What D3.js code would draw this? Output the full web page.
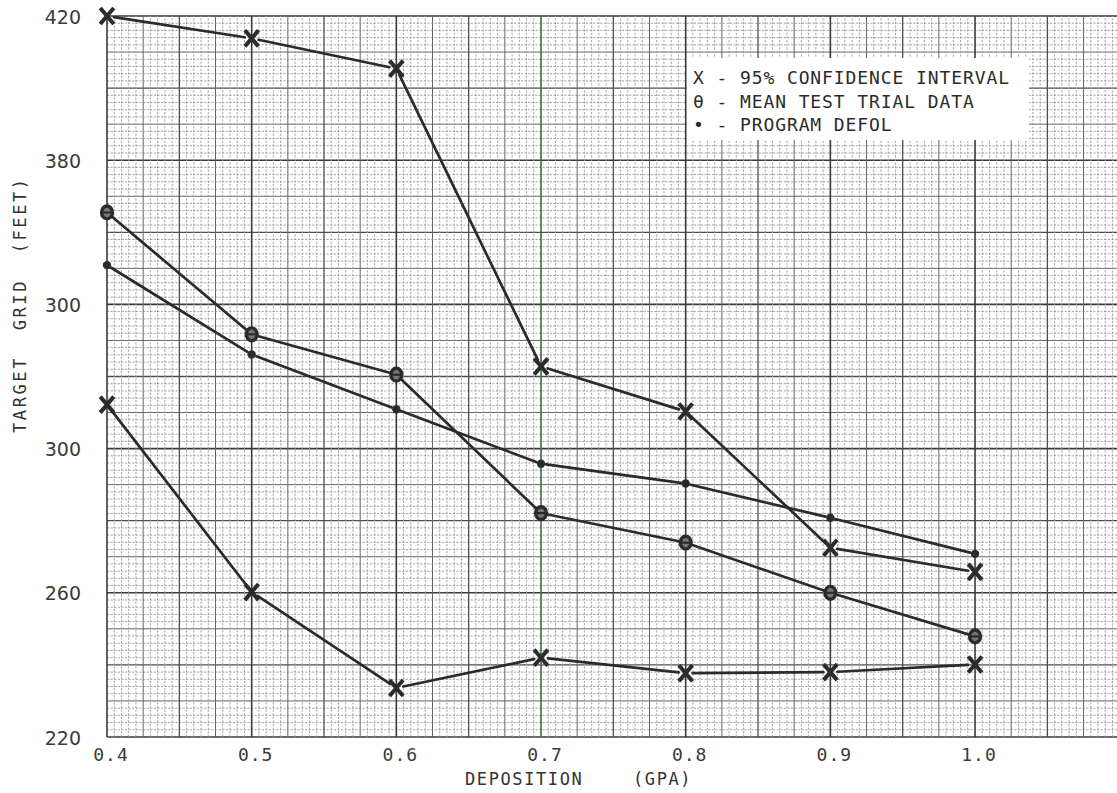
<!DOCTYPE html>
<html>
<head>
<meta charset="utf-8">
<script src="https://cdn.jsdelivr.net/npm/d3@7"></script>
<style>
  html, body { margin: 0; padding: 0; background: #fff; }
  svg { display: block; }
</style>
</head>
<body>
<script>
// Deposition (GPA) against target grid distance (feet)
const deposition   = [0.4, 0.5, 0.6, 0.7, 0.8, 0.9, 1.0];
const upperCI      = [420, 413.8, 405.4, 322.8, 310.3, 272.5, 265.8];
const lowerCI      = [312.2, 260.2, 233.6, 242.0, 237.7, 238.0, 240.1];
const meanTrial    = [365.5, 331.7, 320.5, 282.1, 273.9, 260.0, 247.9];
const programDefol = [350.9, 326.1, 310.9, 295.8, 290.3, 280.8, 270.8];

const xTickValues = [0.4, 0.5, 0.6, 0.7, 0.8, 0.9, 1.0];
const xTickLabels = ["0.4", "0.5", "0.6", "0.7", "0.8", "0.9", "1.0"];
const yTickValues = [420, 380, 340, 300, 260, 220];
const yTickLabels = ["420", "380", "300", "300", "260", "220"];

const legendItems = [
  { key: "ci",   text: "X - 95% CONFIDENCE INTERVAL" },
  { key: "mean", text: "\u03B8 - MEAN TEST TRIAL DATA" },
  { key: "prog", text: "\u2022 - PROGRAM DEFOL" }
];

const W = 1117, H = 793;
const ink = "#2b2b2b";

const svg = d3.select("body").append("svg")
  .attr("width", W).attr("height", H);

const x = d3.scaleLinear().domain([0.4, 1.1]).range([107, 1119.7]);
const y = d3.scaleLinear().domain([220, 420]).range([737, 16]);

// ---- graph paper ----
const grid = svg.append("g");
const nx = 140; // 0.005 steps
const ny = 100; // 2-unit steps
function lineStyle(i, big, mid, small) {
  if (i % big === 0) return { c: "#3a3a3a", w: 1.6 };
  if (i % mid === 0) return { c: "#4e4e4e", w: 1.3 };
  if (i % small === 0) return { c: "#666", w: 1.0 };
  return { c: "#9a9a9a", w: 0.9 };
}
const vLines = d3.range(nx + 1).map(i => ({ v: 0.4 + i * 0.005, s: lineStyle(i, 20, 10, 5) }));
const hLines = d3.range(ny + 1).map(j => ({ v: 220 + j * 2, s: lineStyle(j, 20, 10, 5) }));

// fine lines first, heavier lines on top
const order = a => a.slice().sort((p, q) => p.s.w - q.s.w);
grid.selectAll(".gh").data(order(hLines)).join("line")
  .attr("x1", x(0.4)).attr("x2", x(1.1))
  .attr("y1", d => y(d.v)).attr("y2", d => y(d.v))
  .attr("stroke", d => d.s.c).attr("stroke-width", d => d.s.w)
  .attr("stroke-dasharray", d => d.s.w < 1 ? "2.2,1.4" : null);
grid.selectAll(".gv").data(order(vLines)).join("line")
  .attr("x1", d => x(d.v)).attr("x2", d => x(d.v))
  .attr("y1", y(220)).attr("y2", y(420))
  .attr("stroke", d => Math.abs(d.v - 0.7) < 1e-9 ? "#3d6b45" : d.s.c)
  .attr("stroke-width", d => d.s.w)
  .attr("stroke-dasharray", d => d.s.w < 1 ? "2.2,1.4" : null);

// ---- legend panel (white patch over the paper) ----
const lg = svg.append("g");
lg.append("rect").attr("x", 687).attr("y", 58).attr("width", 342).attr("height", 82)
  .attr("fill", "#fff");
lg.selectAll("text").data(legendItems).join("text")
  .attr("x", 693).attr("y", (d, i) => 84 + i * 23.5)
  .attr("font-family", "DejaVu Sans Mono, monospace")
  .attr("font-size", 18).attr("letter-spacing", 0.9)
  .attr("fill", ink)
  .text(d => d.text);

// ---- axes text ----
const tf = "DejaVu Sans Mono, monospace";
svg.append("g").selectAll("text").data(yTickValues).join("text")
  .attr("x", 81).attr("y", d => y(d) + 2)
  .attr("text-anchor", "end").attr("dominant-baseline", "middle")
  .attr("font-family", "DejaVu Sans, sans-serif").attr("font-size", 19)
  .attr("fill", "#3a3a3a")
  .text((d, i) => yTickLabels[i]);

svg.append("g").selectAll("text").data(xTickValues).join("text")
  .attr("x", d => x(d) + 4).attr("y", 761)
  .attr("text-anchor", "middle")
  .attr("font-family", tf).attr("font-size", 18).attr("letter-spacing", 1)
  .attr("fill", "#3a3a3a")
  .text((d, i) => xTickLabels[i]);

svg.append("text").attr("x", 465).attr("y", 785)
  .attr("font-family", tf).attr("font-size", 17).attr("letter-spacing", 1.6)
  .attr("fill", "#333").text("DEPOSITION");
svg.append("text").attr("x", 633).attr("y", 785)
  .attr("font-family", tf).attr("font-size", 17).attr("letter-spacing", 1.6)
  .attr("fill", "#333").text("(GPA)");

svg.append("text")
  .attr("transform", "translate(26,433) rotate(-90)")
  .attr("font-family", tf).attr("font-size", 17).attr("letter-spacing", 2.6)
  .attr("fill", "#333").style("white-space", "pre")
  .text("TARGET  GRID  (FEET)");

// ---- data series ----
const series = [
  { key: "ci",   vals: upperCI,      gap: 7 },
  { key: "ci",   vals: lowerCI,      gap: 7 },
  { key: "mean", vals: meanTrial,    gap: 7 },
  { key: "prog", vals: programDefol, gap: 5 }
];

const dataG = svg.append("g");
series.forEach(s => {
  const pts = deposition.map((d, i) => [x(d), y(s.vals[i])]);
  const segs = d3.pairs(pts).map(([a, b]) => {
    const dx = b[0] - a[0], dy = b[1] - a[1], L = Math.hypot(dx, dy);
    const ux = dx / L, uy = dy / L;
    return [a[0] + ux * s.gap, a[1] + uy * s.gap, b[0] - ux * s.gap, b[1] - uy * s.gap];
  });
  dataG.append("g").selectAll("line").data(segs).join("line")
    .attr("x1", d => d[0]).attr("y1", d => d[1])
    .attr("x2", d => d[2]).attr("y2", d => d[3])
    .attr("stroke", ink).attr("stroke-width", 2.7).attr("stroke-linecap", "round");

  const mg = dataG.append("g").selectAll("g").data(pts).join("g")
    .attr("transform", d => `translate(${d[0]},${d[1]})`);
  if (s.key === "ci") {
    mg.append("path").attr("d", "M-5.5,-6.5L5.5,6.5M5.5,-6.5L-5.5,6.5")
      .attr("stroke", ink).attr("stroke-width", 4).attr("stroke-linecap", "square");
  } else if (s.key === "mean") {
    mg.append("ellipse").attr("rx", 5.4).attr("ry", 6.4)
      .attr("fill", "#777").attr("stroke", ink).attr("stroke-width", 3.4);
    mg.append("line").attr("x1", -4).attr("x2", 4).attr("y1", 0).attr("y2", 0)
      .attr("stroke", ink).attr("stroke-width", 2.2);
  } else {
    mg.append("circle").attr("r", 4.2).attr("fill", ink);
  }
});
</script>
</body>
</html>
